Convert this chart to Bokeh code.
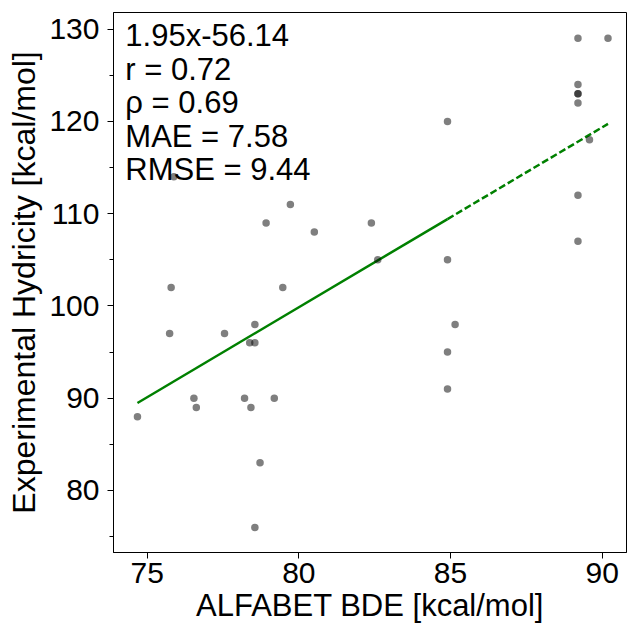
from bokeh.plotting import figure
from bokeh.models import Range1d, FixedTicker, Label
from bokeh.embed import file_html
from bokeh.resources import INLINE

# ---- data ----
bde = [74.68, 75.88, 75.79, 75.74, 77.55, 78.55, 78.38, 78.55, 78.92, 79.72,
       80.51, 79.47, 76.54, 76.62, 78.21, 78.42, 79.19, 78.72, 78.55, 82.39,
       82.60, 84.90, 84.90, 85.15, 84.90, 84.90, 89.20, 90.19, 89.20, 89.20,
       89.20, 89.20, 89.58, 89.20, 89.20]
hydricity = [88, 114, 102, 97, 97, 98, 96, 96, 109, 111,
             108, 102, 90, 89, 90, 89, 90, 83, 76, 109,
             105, 120, 105, 98, 95, 91, 129, 129, 124, 123,
             123, 122, 118, 112, 107]

slope = 1.95
intercept = -56.14
split_x = 84.9  # solid fit to here, dashed beyond

stats_lines = ["1.95x-56.14", "r = 0.72", "\u03c1 = 0.69", "MAE = 7.58", "RMSE = 9.44"]

x_ticks = [75, 80, 85, 90]
y_ticks = [80, 90, 100, 110, 120, 130]
y_minor = [75, 85, 95, 105, 115, 125]

FONT = "Liberation Sans"

p = figure(width=627, height=626, output_backend="svg", toolbar_location=None,
           x_range=Range1d(73.89, 90.8), y_range=Range1d(73.28, 131.8),
           min_border_left=113, min_border_right=1, min_border_top=12,
           min_border_bottom=74)

p.xgrid.visible = False
p.ygrid.visible = False
p.outline_line_color = "black"
p.outline_line_width = 1
p.background_fill_color = "white"
p.border_fill_color = "white"

# fit line
xmin, xmax = min(bde), max(bde)
p.line([xmin, split_x], [slope * xmin + intercept, slope * split_x + intercept],
       line_color="#008000", line_width=2.5)
p.line([split_x, xmax], [slope * split_x + intercept, slope * xmax + intercept],
       line_color="#008000", line_width=2.5, line_dash="7 3")

# points
p.scatter(bde, hydricity, size=7.5, fill_color="black", fill_alpha=0.5,
          line_color=None)

# stats text
x0 = 74.28
y0 = 129.3
dy = 3.64
for i, t in enumerate(stats_lines):
    p.add_layout(Label(x=x0, y=y0 - i * dy, text=t, text_font=FONT,
                       text_font_size="31px", text_color="black",
                       text_baseline="alphabetic", text_align="left"))

# axes
p.xaxis.ticker = FixedTicker(ticks=x_ticks)
p.yaxis.ticker = FixedTicker(ticks=y_ticks, minor_ticks=y_minor)
for ax in (p.xaxis[0], p.yaxis[0]):
    ax.major_label_text_font = FONT
    ax.major_label_text_font_size = "30px"
    ax.major_label_text_color = "black"
    ax.axis_label_text_font = FONT
    ax.axis_label_text_font_style = "normal"
    ax.axis_label_text_color = "black"
    ax.axis_line_color = "black"
    ax.major_tick_line_color = "black"
    ax.major_tick_out = 6
    ax.major_tick_in = 0
    ax.minor_tick_out = 4
    ax.minor_tick_in = 0

p.xaxis.axis_label = "ALFABET BDE [kcal/mol]"
p.yaxis.axis_label = "Experimental Hydricity [kcal/mol]"
p.xaxis.axis_label_text_font_size = "31px"
p.yaxis.axis_label_text_font_size = "32px"
p.xaxis.major_label_standoff = 4
p.yaxis.major_label_standoff = 8
p.xaxis.minor_tick_line_color = None
p.yaxis.minor_tick_line_color = "black"
p.xaxis.axis_label_standoff = 2
p.yaxis.axis_label_standoff = 4

open("out.html", "w").write(file_html(p, INLINE))
